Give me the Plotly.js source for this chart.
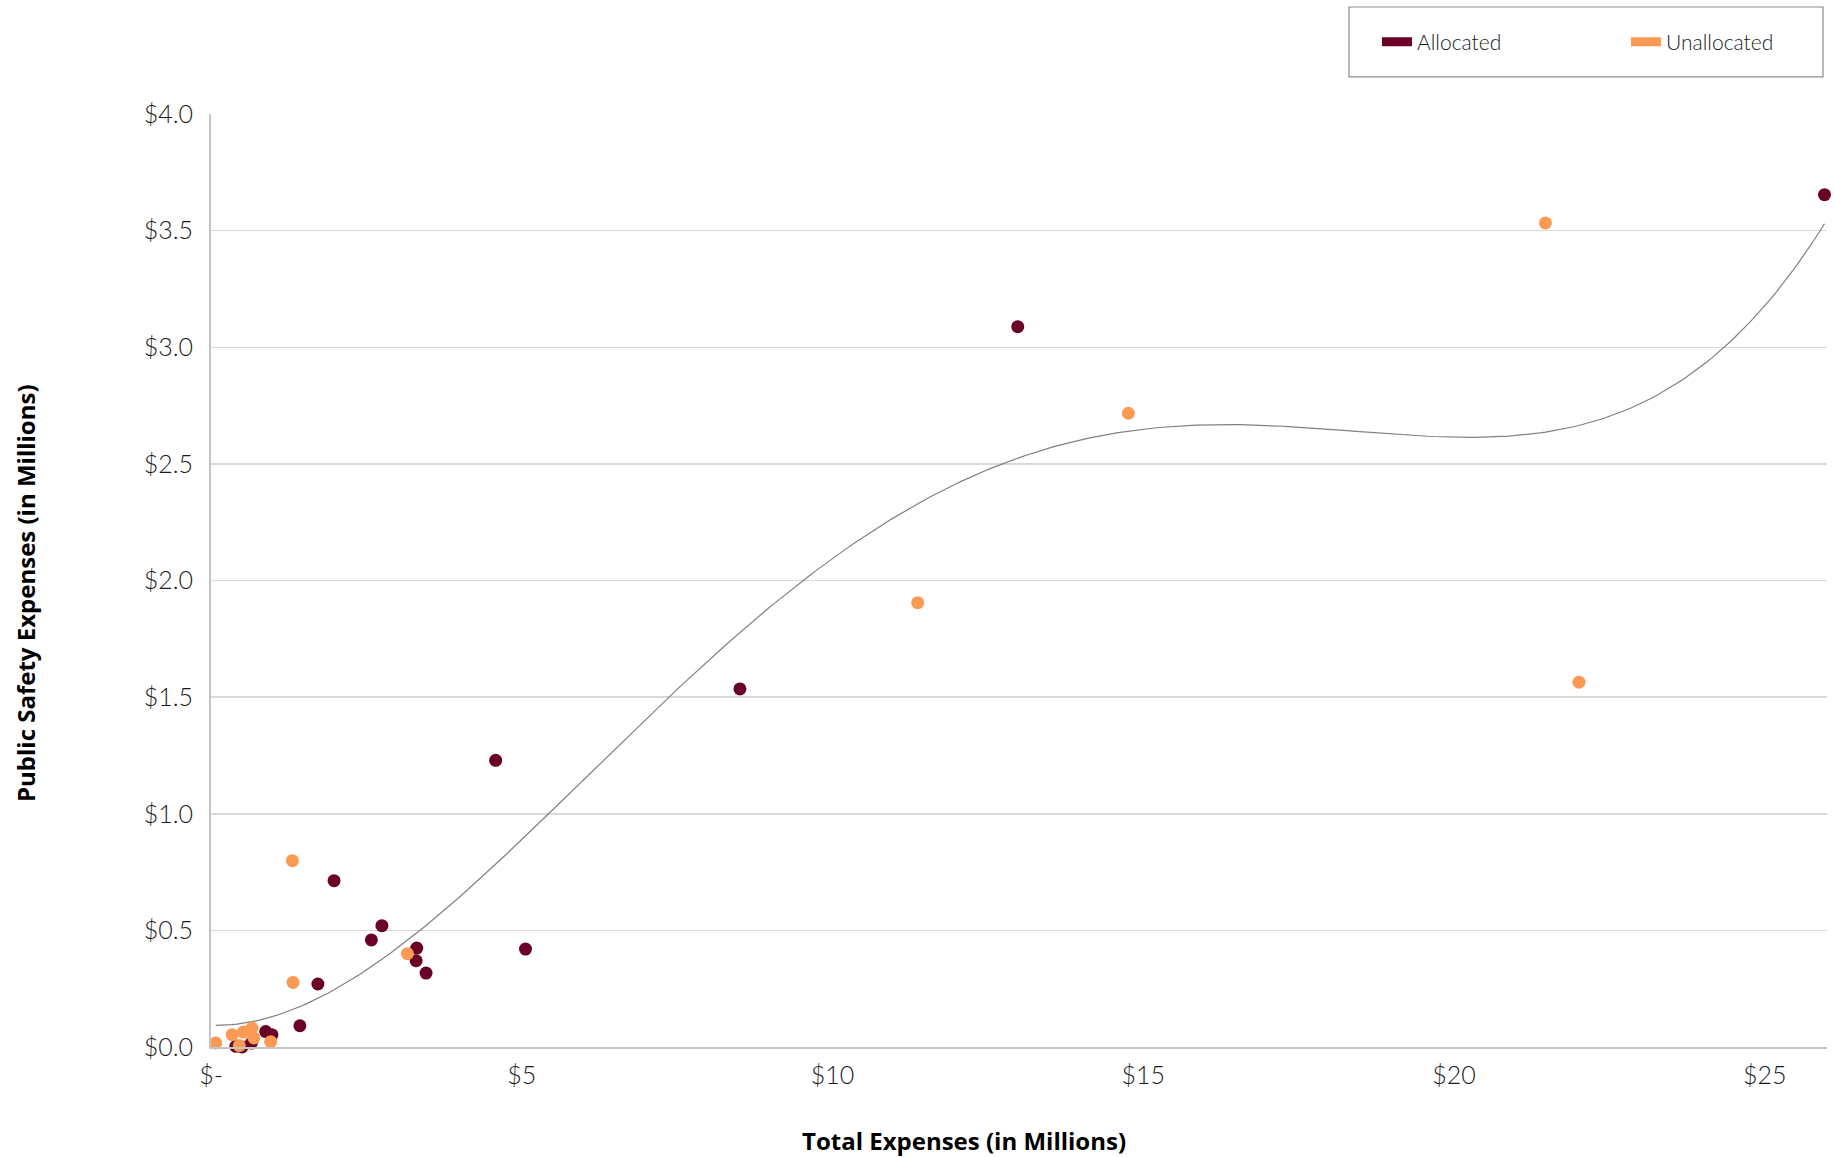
<!DOCTYPE html>
<html><head><meta charset="utf-8">
<script src="https://cdn.plot.ly/plotly-3.0.1.min.js"></script>
<style>html,body{margin:0;padding:0;background:#fff}#chart{width:1834px;height:1157px}</style>
</head><body><div id="chart"></div>
<script>
// ---- data (millions of dollars) ----
const allocatedTotal  = [25.96, 12.98, 8.51, 4.58, 5.06, 1.98, 2.75, 2.58, 3.31, 3.30, 3.46, 1.72, 1.43, 0.88, 0.98, 0.65, 0.40, 0.50];
const allocatedSafety = [3.654, 3.088, 1.535, 1.229, 0.420, 0.713, 0.520, 0.459, 0.424, 0.370, 0.317, 0.270, 0.091, 0.066, 0.053, 0.017, 0.003, 0.000];
const unallocatedTotal  = [21.47, 14.76, 11.37, 22.01, 1.31, 1.32, 3.16, 0.075, 0.34, 0.52, 0.66, 0.69, 0.455, 0.96];
const unallocatedSafety = [3.533, 2.717, 1.905, 1.564, 0.799, 0.277, 0.400, 0.017, 0.053, 0.064, 0.081, 0.039, 0.006, 0.023];
const seriesNames = ['Allocated', 'Unallocated'];
const xTickVals = [0, 5, 10, 15, 20, 25];
const xTickText = ['$-', '$5', '$10', '$15', '$20', '$25'];
const yTickVals = [0, 0.5, 1, 1.5, 2, 2.5, 3, 3.5, 4];
const yTickText = ['$0.0', '$0.5', '$1.0', '$1.5', '$2.0', '$2.5', '$3.0', '$3.5', '$4.0'];
const xTitle = 'Total Expenses (in Millions)';
const yTitle = 'Public Safety Expenses (in Millions)';
const trendDegree = 4;

const colAlloc = '#6b0029';
const colUnalloc = '#fb9a55';

// ---- polynomial trendline (least squares over all points) ----
function polyfit(xs, ys, deg, scale) {
  const n = deg + 1;
  const A = Array.from({length: n}, () => new Array(n + 1).fill(0));
  for (let k = 0; k < xs.length; k++) {
    const t = xs[k] / scale;
    const pw = [];
    for (let i = 0; i < 2 * n; i++) pw.push(Math.pow(t, i));
    for (let i = 0; i < n; i++) {
      for (let j = 0; j < n; j++) A[i][j] += pw[i + j];
      A[i][n] += pw[i] * ys[k];
    }
  }
  for (let c = 0; c < n; c++) {
    let p = c;
    for (let r = c + 1; r < n; r++) if (Math.abs(A[r][c]) > Math.abs(A[p][c])) p = r;
    [A[c], A[p]] = [A[p], A[c]];
    for (let r = 0; r < n; r++) {
      if (r === c) continue;
      const f = A[r][c] / A[c][c];
      for (let j = c; j <= n; j++) A[r][j] -= f * A[c][j];
    }
  }
  return A.map((row, i) => row[n] / A[i][i]);
}
const allX = allocatedTotal.concat(unallocatedTotal);
const allY = allocatedSafety.concat(unallocatedSafety);
const xMin = Math.min(...allX), xMax = Math.max(...allX);
const coef = polyfit(allX, allY, trendDegree, xMax);
const trendX = [], trendY = [];
for (let i = 0; i <= 300; i++) {
  const x = xMin + (xMax - xMin) * i / 300;
  const t = x / xMax;
  let y = 0;
  for (let d = coef.length - 1; d >= 0; d--) y = y * t + coef[d];
  trendX.push(x); trendY.push(y);
}

const FONT = 'Lato, "Open Sans", sans-serif';
const TITLE_FONT = '"Open Sans", Lato, sans-serif';

const traces = [
  {x: trendX, y: trendY, mode: 'lines', line: {color: '#808080', width: 1.2}, showlegend: false, hoverinfo: 'skip'},
  {x: allocatedTotal, y: allocatedSafety, mode: 'markers', name: seriesNames[0], showlegend: false,
   cliponaxis: false, marker: {color: colAlloc, size: 13}},
  {x: unallocatedTotal, y: unallocatedSafety, mode: 'markers', name: seriesNames[1], showlegend: false,
   cliponaxis: false, marker: {color: colUnalloc, size: 13}},
  {x: [null], y: [null], mode: 'lines', name: seriesNames[0], line: {color: colAlloc, width: 9}},
  {x: [null], y: [null], mode: 'lines', name: seriesNames[1], line: {color: colUnalloc, width: 9}}
];

const layout = {
  width: 1834, height: 1157,
  margin: {l: 211, r: 7, t: 114, b: 110},
  paper_bgcolor: '#fff', plot_bgcolor: '#fff',
  font: {family: FONT, color: '#1a1a1a'},
  showlegend: true,
  legend: {
    orientation: 'h', xref: 'container', yref: 'container',
    x: 0.7508, xanchor: 'left', y: 0.9637, yanchor: 'middle',
    entrywidth: 204, entrywidthmode: 'pixels',
    font: {family: FONT, size: 21, color: '#1a1a1a', weight: 300},
    bgcolor: 'rgba(0,0,0,0)', borderwidth: 0
  },
  xaxis: {
    range: [0, 26], showgrid: false, zeroline: false,
    showline: true, linecolor: '#c4c4c4', linewidth: 2,
    ticks: '', tickvals: xTickVals, ticktext: xTickText, ticklabelstandoff: 5,
    tickfont: {family: FONT, size: 25, color: '#1a1a1a', weight: 300},
    automargin: false
  },
  yaxis: {
    range: [0, 4], showgrid: true, gridcolor: '#d9d9d9', gridwidth: 1.5, zeroline: false,
    showline: true, linecolor: '#c4c4c4', linewidth: 2,
    ticks: '', tickvals: yTickVals, ticktext: yTickText, ticklabelstandoff: 11,
    tickfont: {family: FONT, size: 25, color: '#1a1a1a', weight: 300},
    automargin: false
  },
  annotations: [
    {text: xTitle, xref: 'paper', yref: 'paper', x: 0.466, y: -0.0997,
     xanchor: 'center', yanchor: 'middle', showarrow: false,
     font: {family: TITLE_FONT, size: 24, color: '#000', weight: 'bold'}},
    {text: yTitle, xref: 'paper', yref: 'paper', x: -0.1151, y: 0.4866, textangle: -90,
     xanchor: 'center', yanchor: 'middle', showarrow: false,
     font: {family: TITLE_FONT, size: 24, color: '#000', weight: 'bold'}}
  ],
  shapes: [{
    type: 'rect', xref: 'paper', yref: 'paper',
    x0: 0.7042, x1: 0.9975, y0: 1.0397, y1: 1.1147,
    line: {color: '#8c8c8c', width: 1.2}, fillcolor: 'rgba(0,0,0,0)'
  }]
};

Plotly.newPlot('chart', traces, layout, {displayModeBar: false, staticPlot: true});
</script>
</body></html>
